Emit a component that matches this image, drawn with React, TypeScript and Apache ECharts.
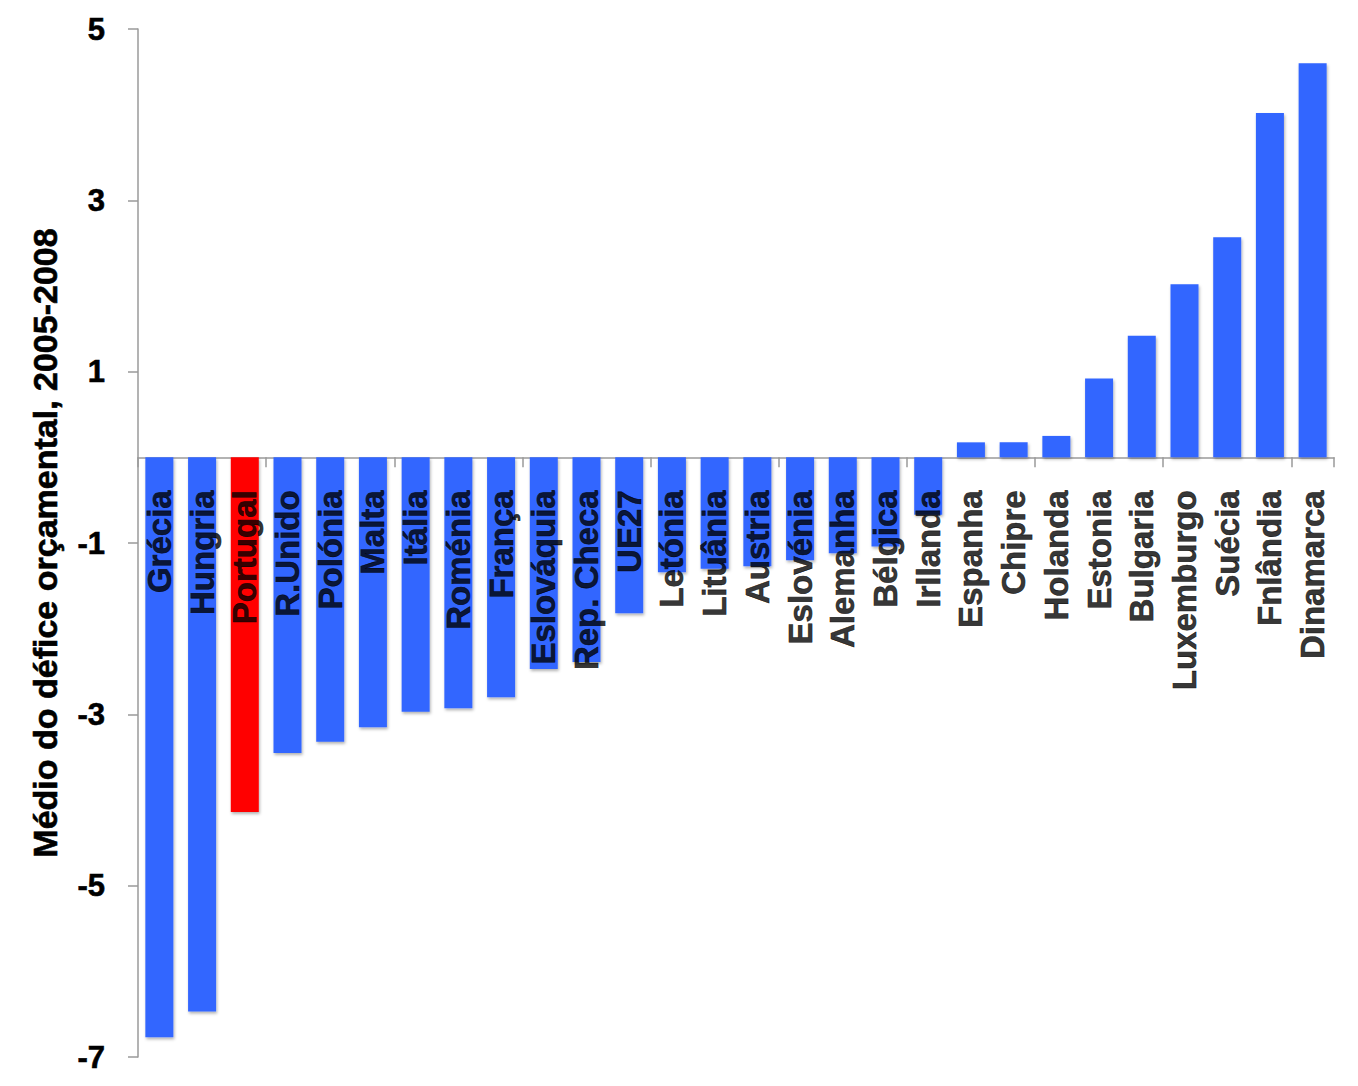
import React, { useEffect, useRef } from "react";
import * as echarts from "echarts";

const categories = [
  "Grécia", "Hungria", "Portugal", "R.Unido", "Polónia", "Malta", "Itália", "Roménia", "França",
  "Eslováquia", "Rep. Checa", "UE27", "Letónia", "Lituânia", "Austria", "Eslovénia", "Alemanha",
  "Bélgica", "Irllanda", "Espanha", "Chipre", "Holanda", "Estonia", "Bulgaria", "Luxemburgo",
  "Suécia", "Fnlândia", "Dinamarca",
];
const values = [
  -6.77, -6.47, -4.14, -3.45, -3.32, -3.15, -2.97, -2.93, -2.8,
  -2.47, -2.39, -1.82, -1.34, -1.3, -1.27, -1.2, -1.12,
  -1.04, -0.67, 0.175, 0.175, 0.25, 0.92, 1.42, 2.02,
  2.57, 4.02, 4.6,
];
const highlighted = ["Portugal"];
const yTitle = "Médio do défice orçamental, 2005-2008";

const FONT = "'Liberation Sans', Arial, Helvetica, sans-serif";

export default function App() {
  const ref = useRef<HTMLDivElement>(null);
  useEffect(() => {
    if (!ref.current) return;
    const chart = echarts.init(ref.current, undefined, { renderer: "svg" });
    chart.setOption({
      animation: false,
      backgroundColor: "#ffffff",
      grid: {
        left: 138,
        right: 24,
        top: 29,
        bottom: 29,
        containLabel: false,
        outerBoundsMode: "none",
      },
      xAxis: {
        type: "category",
        data: categories,
        axisLine: { onZero: true, lineStyle: { color: "#9a9a9a", width: 1.5 } },
        axisTick: { show: true, length: 10, lineStyle: { color: "#9a9a9a", width: 1.5 } },
        axisLabel: { show: false },
        splitLine: { show: false },
      },
      yAxis: {
        type: "value",
        min: -7,
        max: 5,
        interval: 2,
        name: yTitle,
        nameLocation: "middle",
        nameGap: 76,
        nameRotate: 90,
        nameTextStyle: {
          color: "#000",
          fontFamily: FONT,
          fontWeight: "bold",
          fontSize: 34,
          textBorderColor: "#000",
          textBorderWidth: 0.6,
        },
        axisLine: { show: true, lineStyle: { color: "#9a9a9a", width: 1.5 } },
        axisTick: { show: true, inside: false, length: 10, lineStyle: { color: "#9a9a9a", width: 1.5 } },
        axisLabel: {
          margin: 33,
          color: "#000",
          fontFamily: FONT,
          fontWeight: "bold",
          fontSize: 31,
          textBorderColor: "#000",
          textBorderWidth: 0.6,
        },
        splitLine: { show: false },
      },
      series: [
        {
          type: "bar",
          barWidth: 28,
          z: 2,
          data: values.map((v, i) => ({
            value: v,
            itemStyle: {
              color: highlighted.includes(categories[i]) ? "#ff0000" : "#3366ff",
            },
          })),
          itemStyle: {
            shadowBlur: 3,
            shadowOffsetX: 1,
            shadowOffsetY: 2,
            shadowColor: "rgba(0,0,0,0.3)",
          },
        },
        {
          type: "scatter",
          z: 10,
          symbolSize: 0,
          silent: true,
          data: categories.map((c) => [c, 0]),
          label: {
            show: true,
            formatter: (p: any) => p.value[0],
            position: [0, 33],
            rotate: 90,
            align: "right",
            verticalAlign: "middle",
            color: "#000",
            fontFamily: FONT,
            fontWeight: "bold",
            fontSize: 33,
            textBorderColor: "#000",
            textBorderWidth: 0.6,
          },
        },
      ],
    });
    return () => chart.dispose();
  }, []);
  return (
    <div
      ref={ref}
      style={{ position: "fixed", left: 0, top: 0, width: 1358, height: 1086 }}
    />
  );
}
